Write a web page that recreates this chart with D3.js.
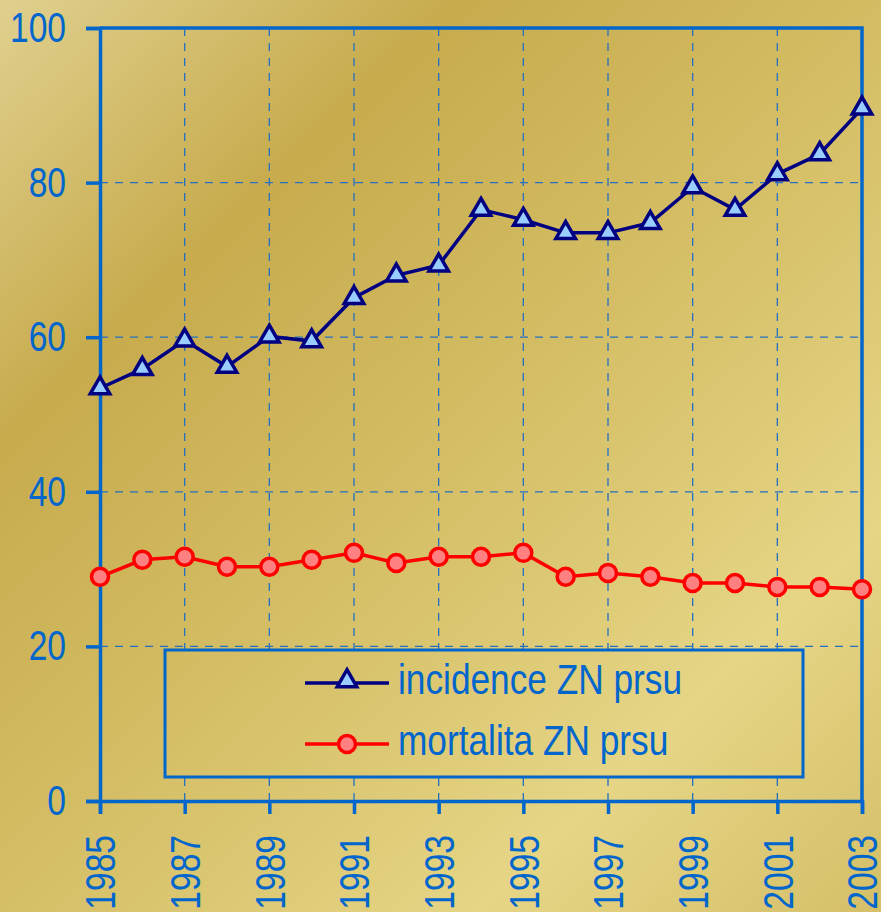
<!DOCTYPE html>
<html style="overflow:hidden;">
<head>
	<meta charset="utf-8">
	<script src="https://cdnjs.cloudflare.com/ajax/libs/d3/7.8.5/d3.min.js" charset="utf-8"></script>
	<style>
	  body { margin:0; padding:0; }
	  text { font-family: "Liberation Sans", Arial, sans-serif; fill:#0066cc; }
	</style>
</head>
<body>
<div id="chart"></div>
<script>
// data
var years = [1985,1986,1987,1988,1989,1990,1991,1992,1993,1994,1995,1996,1997,1998,1999,2000,2001,2002,2003];
var incidence = [53.4,55.9,59.6,56.2,60.1,59.5,65.1,68.0,69.3,76.5,75.2,73.5,73.5,74.8,79.4,76.5,81.1,83.7,89.6];
var mortalita = [29.0,31.2,31.6,30.3,30.3,31.2,32.1,30.8,31.6,31.6,32.1,29.0,29.5,29.0,28.2,28.2,27.7,27.7,27.4];
var yTicks = [0,20,40,60,80,100];
var xTicks = [1985,1987,1989,1991,1993,1995,1997,1999,2001,2003];
var seriesNames = ["incidence ZN prsu", "mortalita ZN prsu"];

var width = 881, height = 912;
var margin = {top: 28, right: 19, bottom: 111, left: 100};
var blue = "#0066cc";
var squeeze = 0.8;   // narrow font look

var svg = d3.select("#chart").append("svg")
    .attr("width", width)
    .attr("height", height);

// gold background
var defs = svg.append("defs");
var grad = defs.append("linearGradient")
    .attr("id", "gold")
    .attr("gradientUnits", "userSpaceOnUse")
    .attr("x1", 0).attr("y1", 0)
    .attr("x2", width).attr("y2", height);
grad.append("stop").attr("offset", 0).attr("stop-color", "#e0d08f");
grad.append("stop").attr("offset", 0.25).attr("stop-color", "#c7ab4d");
grad.append("stop").attr("offset", 0.5).attr("stop-color", "#d4bd64");
grad.append("stop").attr("offset", 0.78).attr("stop-color", "#e5d585");
grad.append("stop").attr("offset", 1).attr("stop-color", "#d5bf68");

svg.append("rect")
    .attr("width", width).attr("height", height)
    .attr("fill", "url(#gold)");

var x = d3.scaleLinear()
    .domain([1985, 2003])
    .range([margin.left, width - margin.right]);
var y = d3.scaleLinear()
    .domain([0, 100])
    .range([height - margin.bottom, margin.top]);

// gridlines
svg.append("g").selectAll("line")
    .data(yTicks.filter(function(d){ return d > 0 && d < 100; }))
  .enter().append("line")
    .attr("x1", x(1985)).attr("x2", x(2003))
    .attr("y1", function(d){ return y(d); })
    .attr("y2", function(d){ return y(d); })
    .style("stroke", "#2470c2")
    .style("stroke-width", 1.3)
    .style("stroke-dasharray", "8,7");
svg.append("g").selectAll("line")
    .data(xTicks.filter(function(d){ return d > 1985 && d < 2003; }))
  .enter().append("line")
    .attr("x1", function(d){ return x(d); })
    .attr("x2", function(d){ return x(d); })
    .attr("y1", y(100)).attr("y2", y(0))
    .style("stroke", "#2470c2")
    .style("stroke-width", 1.3)
    .style("stroke-dasharray", "8,7");

// plot frame (top and right)
svg.append("path")
    .attr("d", "M" + x(1985) + "," + y(100) + "H" + x(2003) + "V" + y(0))
    .style("fill", "none")
    .style("stroke", blue)
    .style("stroke-width", 3.5);

// Y axis
var yAxis = svg.append("g")
    .attr("transform", "translate(" + margin.left + ",0)")
    .call(d3.axisLeft(y).tickValues(yTicks).tickSize(14).tickPadding(20));
yAxis.select(".domain").style("stroke", blue).style("stroke-width", 3.5);
yAxis.selectAll(".tick line").style("stroke", blue).style("stroke-width", 3.5);
yAxis.selectAll(".tick text")
    .style("font-size", "42px")
    .style("fill", blue)
    .attr("x", -34 / squeeze)
    .attr("transform", "scale(" + squeeze + ",1)");

// X axis
var xAxis = svg.append("g")
    .attr("transform", "translate(0," + y(0) + ")")
    .call(d3.axisBottom(x).tickValues(xTicks).tickSize(13).tickFormat(d3.format("d")));
xAxis.select(".domain").style("stroke", blue).style("stroke-width", 3.5);
xAxis.selectAll(".tick line").style("stroke", blue).style("stroke-width", 3.5);
xAxis.selectAll(".tick text")
    .style("font-size", "42px")
    .style("fill", blue)
    .style("text-anchor", "end")
    .attr("x", -34 / squeeze)
    .attr("y", 0)
    .attr("dy", "0.35em")
    .attr("transform", "rotate(-90) scale(" + squeeze + ",1)");

// legend box (opaque, covers gridlines)
svg.append("rect")
    .attr("x", 165).attr("y", 650)
    .attr("width", 638).attr("height", 127)
    .attr("fill", "url(#gold)")
    .style("stroke", blue)
    .style("stroke-width", 3);

// lines
var line = d3.line()
    .x(function(d, i){ return x(years[i]); })
    .y(function(d){ return y(d); });

svg.append("path")
    .datum(mortalita)
    .attr("d", line)
    .style("fill", "none")
    .style("stroke", "#ff0000")
    .style("stroke-width", 3.5);

svg.append("path")
    .datum(incidence)
    .attr("d", line)
    .style("fill", "none")
    .style("stroke", "#000080")
    .style("stroke-width", 3.5);

var tri = d3.symbol().type(d3.symbolTriangle).size(165);

svg.append("g").selectAll("circle")
    .data(mortalita)
  .enter().append("circle")
    .attr("cx", function(d, i){ return x(years[i]); })
    .attr("cy", function(d){ return y(d); })
    .attr("r", 8.5)
    .style("fill", "#ff8080")
    .style("stroke", "#ff0000")
    .style("stroke-width", 3.5);

svg.append("g").selectAll("path")
    .data(incidence)
  .enter().append("path")
    .attr("d", tri)
    .attr("transform", function(d, i){ return "translate(" + x(years[i]) + "," + y(d) + ")"; })
    .style("fill", "#99ccff")
    .style("stroke", "#000080")
    .style("stroke-width", 3.5)
    .style("stroke-linejoin", "miter");

// legend entries
var legendRows = [683, 744];
var legend = svg.append("g");
legend.append("line")
    .attr("x1", 305).attr("x2", 389)
    .attr("y1", legendRows[0]).attr("y2", legendRows[0])
    .style("stroke", "#000080").style("stroke-width", 3.5);
legend.append("path")
    .attr("d", tri)
    .attr("transform", "translate(347," + (legendRows[0] - 2) + ")")
    .style("fill", "#99ccff")
    .style("stroke", "#000080")
    .style("stroke-width", 3.5);
legend.append("line")
    .attr("x1", 305).attr("x2", 389)
    .attr("y1", legendRows[1]).attr("y2", legendRows[1])
    .style("stroke", "#ff0000").style("stroke-width", 3.5);
legend.append("circle")
    .attr("cx", 347).attr("cy", legendRows[1]).attr("r", 8.5)
    .style("fill", "#ff8080")
    .style("stroke", "#ff0000")
    .style("stroke-width", 3.5);
var legendSqueeze = 0.82;
legend.selectAll("text")
    .data(seriesNames)
  .enter().append("text")
    .attr("x", 398 / legendSqueeze)
    .attr("y", function(d, i){ return legendRows[i] + 11; })
    .attr("transform", "scale(" + legendSqueeze + ",1)")
    .style("font-size", "43px")
    .text(function(d){ return d; });
</script>
</body>
</html>
